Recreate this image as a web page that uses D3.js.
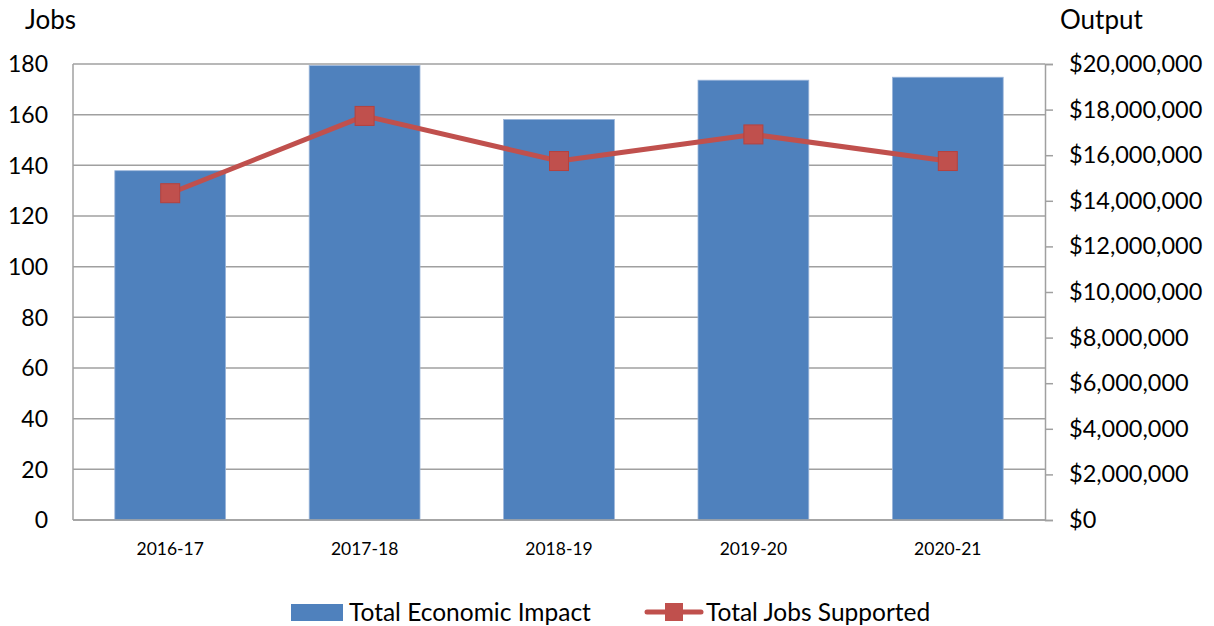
<!DOCTYPE html>
<html>
<head>
<meta charset="utf-8">
<script src="https://cdn.jsdelivr.net/npm/d3@7"></script>
<style>
  body { margin: 0; background: #fff; }
  svg text { font-family: Lato, "Open Sans", sans-serif; fill: #000; }
</style>
</head>
<body>
<div id="chart"></div>
<script>
// data
var years = ["2016-17", "2017-18", "2018-19", "2019-20", "2020-21"];
var economicImpact = [15320000, 19930000, 17570000, 19290000, 19420000]; // bars, right axis
var jobsSupported = [129, 159.5, 141.7, 152.2, 141.7]; // line, left axis
var jobTicks = [0, 20, 40, 60, 80, 100, 120, 140, 160, 180];
var outputTicks = [0, 2e6, 4e6, 6e6, 8e6, 10e6, 12e6, 14e6, 16e6, 18e6, 20e6];

var width = 1214, height = 626;
var margin = {top: 64, right: 169, bottom: 106, left: 73};
var w = width - margin.left - margin.right,
    h = height - margin.top - margin.bottom;

var blue = "#4F81BD", red = "#C0504D", grid = "#a0a0a0";

var svg = d3.select("#chart").append("svg")
  .attr("width", width)
  .attr("height", height);

var g = svg.append("g")
  .attr("transform", "translate(" + margin.left + "," + margin.top + ")");

var x = d3.scaleBand().domain(years).range([0, w]).paddingInner(0.43).paddingOuter(0.215);
var xc = d3.scaleBand().domain(years).range([0, w]); // for label / point centres
var yJobs = d3.scaleLinear().domain([0, 180]).range([h, 0]);
var yOut = d3.scaleLinear().domain([0, 20e6]).range([h, 0]);

// horizontal gridlines follow the jobs axis
g.selectAll(".grid")
  .data(jobTicks)
  .enter().append("line")
  .attr("x1", 0).attr("x2", w)
  .attr("y1", function(d){ return yJobs(d); })
  .attr("y2", function(d){ return yJobs(d); })
  .style("stroke", grid)
  .style("stroke-width", 1.5);

// bars
g.selectAll("rect.bar")
  .data(years)
  .enter().append("rect")
  .attr("class", "bar")
  .attr("x", function(d){ return x(d); })
  .attr("width", x.bandwidth())
  .attr("y", function(d, i){ return yOut(economicImpact[i]); })
  .attr("height", function(d, i){ return h - yOut(economicImpact[i]); })
  .style("fill", blue)
  .style("stroke", "#9cb6da")
  .style("stroke-width", 0.8);

// frame lines
g.append("line").attr("x1", 0).attr("x2", 0).attr("y1", 0).attr("y2", h)
  .style("stroke", grid).style("stroke-width", 1.5);
g.append("line").attr("x1", 0).attr("x2", w).attr("y1", h).attr("y2", h)
  .style("stroke", grid).style("stroke-width", 1.5);

// left axis labels (no ticks)
g.selectAll(".ylab")
  .data(jobTicks)
  .enter().append("text")
  .attr("x", -25)
  .attr("y", function(d){ return yJobs(d); })
  .attr("dy", "0.36em")
  .style("text-anchor", "end")
  .style("font-size", "23px")
  .text(function(d){ return d; });

// right axis
var rightAxis = d3.axisRight(yOut)
  .tickValues(outputTicks)
  .tickSize(8)
  .tickPadding(16)
  .tickFormat(function(d){ return "$" + d3.format(",")(d); });

var ra = g.append("g")
  .attr("transform", "translate(" + w + ",0)")
  .call(rightAxis);
ra.select(".domain").style("stroke", grid).style("stroke-width", 1.5);
ra.selectAll(".tick line").style("stroke", grid).style("stroke-width", 1.5);
ra.selectAll(".tick text")
  .style("font-size", "23.5px")
  .style("font-family", "Lato, 'Open Sans', sans-serif")
  .attr("fill", "#000");

// category labels
g.selectAll(".xlab")
  .data(years)
  .enter().append("text")
  .attr("x", function(d){ return xc(d) + xc.bandwidth() / 2; })
  .attr("y", h + 35)
  .style("text-anchor", "middle")
  .style("font-size", "17.5px")
  .text(function(d){ return d; });

// jobs line
var line = d3.line()
  .x(function(d, i){ return xc(years[i]) + xc.bandwidth() / 2; })
  .y(function(d){ return yJobs(d); });

g.append("path")
  .datum(jobsSupported)
  .attr("d", line)
  .style("fill", "none")
  .style("stroke", red)
  .style("stroke-width", 5)
  .style("stroke-linejoin", "round");

var ms = 19;
g.selectAll("rect.marker")
  .data(jobsSupported)
  .enter().append("rect")
  .attr("class", "marker")
  .attr("x", function(d, i){ return xc(years[i]) + xc.bandwidth() / 2 - ms / 2; })
  .attr("y", function(d){ return yJobs(d) - ms / 2; })
  .attr("width", ms).attr("height", ms)
  .style("fill", red)
  .style("stroke", "#b5423f")
  .style("stroke-width", 1);

// axis titles
svg.append("text").attr("x", 25).attr("y", 29)
  .style("font-size", "26px").text("Jobs");
svg.append("text").attr("x", 1060).attr("y", 29)
  .style("font-size", "26px").text("Output");

// legend
var lg = svg.append("g");
lg.append("rect").attr("x", 291).attr("y", 604).attr("width", 52).attr("height", 17)
  .style("fill", blue);
lg.append("text").attr("x", 349).attr("y", 621)
  .style("font-size", "24.5px").text("Total Economic Impact");
lg.append("line").attr("x1", 647).attr("x2", 701).attr("y1", 612).attr("y2", 612)
  .style("stroke", red).style("stroke-width", 5).style("stroke-linecap", "round");
lg.append("rect").attr("x", 665).attr("y", 603).attr("width", 18).attr("height", 18)
  .style("fill", red);
lg.append("text").attr("x", 706).attr("y", 621)
  .style("font-size", "24.5px").text("Total Jobs Supported");
</script>
</body>
</html>
